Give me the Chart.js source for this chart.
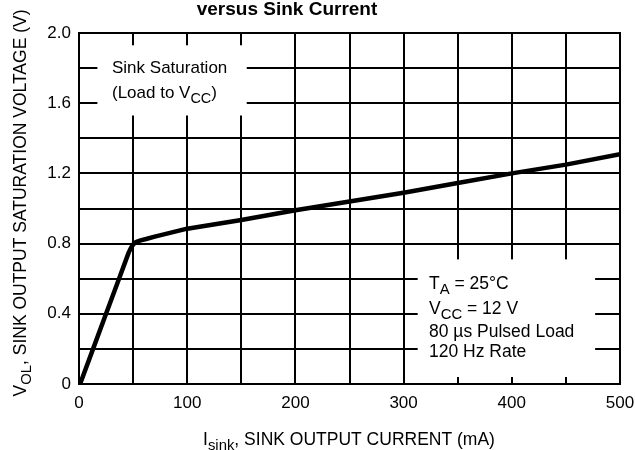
<!DOCTYPE html>
<html>
<head>
<meta charset="utf-8">
<script src="https://cdn.jsdelivr.net/npm/chart.js@4/dist/chart.umd.min.js"></script>
<style>
html,body{margin:0;padding:0;background:#fff;}
#wrap{position:relative;width:635px;height:450px;}
</style>
</head>
<body>
<div id="wrap"><canvas id="c" width="635" height="450"></canvas></div>
<script>
// Data
const sinkCurrent = [1, 13, 25, 37, 43, 46, 48, 50, 53, 57, 62, 70, 100, 150, 200, 250, 300, 350, 400, 450, 500];
const satVoltage  = [0, 0.2, 0.4, 0.6, 0.7, 0.75, 0.775, 0.795, 0.81, 0.818, 0.826, 0.84, 0.885, 0.935, 0.99, 1.04, 1.09, 1.145, 1.2, 1.25, 1.31];
const xLabelTicks = [0, 100, 200, 300, 400, 500];
const yLabelTicks = ['0', '0.4', '0.8', '1.2', '1.6', '2.0'];

const titleText = 'versus Sink Current';
const noteTopLines = [['Sink Saturation'], ['(Load to V', 'CC', ')']];
const noteBottomLines = [['T', 'A', ' = 25\u00B0C'], ['V', 'CC', ' = 12 V'], ['80 \u00B5s Pulsed Load'], ['120 Hz Rate']];
const xTitleParts = ['I', 'sink', ', SINK OUTPUT CURRENT (mA)'];
const yTitleParts = ['V', 'OL', ', SINK OUTPUT SATURATION VOLTAGE (V)'];

const FONT = '"Liberation Sans", Arial, sans-serif';

function drawSubText(ctx, x, y, parts, size) {
  let cx = x;
  parts.forEach((p, i) => {
    const sub = i % 2 === 1;
    ctx.font = (sub ? size * 0.85 : size) + 'px ' + FONT;
    ctx.fillText(p, cx, sub ? y + size * 0.3 : y);
    cx += ctx.measureText(p).width;
  });
  return cx - x;
}
function measureSub(ctx, parts, size) {
  let w = 0;
  parts.forEach((p, i) => {
    ctx.font = ((i % 2 === 1) ? size * 0.85 : size) + 'px ' + FONT;
    w += ctx.measureText(p).width;
  });
  return w;
}

const decor = {
  id: 'decor',
  afterDatasetsDraw(chart) {
    const ctx = chart.ctx;
    const xs = chart.scales.x, ys = chart.scales.y;
    ctx.save();
    ctx.fillStyle = '#000';
    ctx.textBaseline = 'alphabetic';
    ctx.textAlign = 'left';

    // annotation box (top-left)
    const b1 = {x0: xs.getPixelForValue(17), x1: xs.getPixelForValue(155), y0: ys.getPixelForValue(1.93), y1: ys.getPixelForValue(1.53)};
    ctx.fillStyle = '#fff';
    ctx.fillRect(b1.x0, b1.y0, b1.x1 - b1.x0, b1.y1 - b1.y0);
    ctx.fillStyle = '#000';
    drawSubText(ctx, xs.getPixelForValue(30.5), ys.getPixelForValue(1.77), noteTopLines[0], 17);
    drawSubText(ctx, xs.getPixelForValue(30.5), ys.getPixelForValue(1.63), noteTopLines[1], 17);

    // annotation box (bottom-right)
    const b2 = {x0: xs.getPixelForValue(313), x1: xs.getPixelForValue(477), y0: ys.getPixelForValue(0.71), y1: ys.getPixelForValue(0.04)};
    ctx.fillStyle = '#fff';
    ctx.fillRect(b2.x0, b2.y0, b2.x1 - b2.x0, b2.y1 - b2.y0);
    ctx.fillStyle = '#000';
    const lx = xs.getPixelForValue(323.5);
    drawSubText(ctx, lx, ys.getPixelForValue(0.54), noteBottomLines[0], 17.5);
    drawSubText(ctx, lx, ys.getPixelForValue(0.40), noteBottomLines[1], 17.5);
    drawSubText(ctx, lx, ys.getPixelForValue(0.27), noteBottomLines[2], 17.5);
    drawSubText(ctx, lx, ys.getPixelForValue(0.155), noteBottomLines[3], 17.5);

    // redraw border on top
    const a = chart.chartArea;
    ctx.strokeStyle = '#000';
    ctx.lineWidth = 2;
    ctx.strokeRect(a.left, a.top, a.right - a.left, a.bottom - a.top);

    // title
    ctx.font = 'bold 19px ' + FONT;
    ctx.textAlign = 'center';
    ctx.fillText(titleText, 287, 15);
    ctx.textAlign = 'left';

    // x axis title
    const xw = measureSub(ctx, xTitleParts, 17.5);
    drawSubText(ctx, 349 - xw / 2, 445, xTitleParts, 17.5);

    // y axis title
    ctx.save();
    ctx.translate(26, 0);
    ctx.rotate(-Math.PI / 2);
    const yw = measureSub(ctx, yTitleParts, 17.5);
    drawSubText(ctx, -(203 + yw / 2), 0, yTitleParts, 17.5);
    ctx.restore();

    ctx.restore();
  }
};

new Chart(document.getElementById('c'), {
  type: 'scatter',
  data: {
    datasets: [{
      data: sinkCurrent.map((x, i) => ({x: x, y: satVoltage[i]})),
      showLine: true,
      borderColor: '#000',
      borderWidth: 4.5,
      pointRadius: 0,
      tension: 0,
      borderJoinStyle: 'round',
      borderCapStyle: 'round',
      fill: false
    }]
  },
  options: {
    responsive: false,
    animation: false,
    layout: {padding: {top: 33, right: 0, left: 0, bottom: 0}},
    plugins: {legend: {display: false}, tooltip: {enabled: false}},
    scales: {
      x: {
        type: 'linear', min: 0, max: 500,
        ticks: {
          stepSize: 50, color: '#000', padding: 9, maxRotation: 0, autoSkip: false,
          font: {family: FONT, size: 17},
          callback: (v) => xLabelTicks.includes(v) ? String(v) : ''
        },
        grid: {color: '#000', lineWidth: 2, drawTicks: false},
        border: {color: '#000', width: 2},
        afterFit: (s) => { s.height = 66; s.paddingRight = 15; s.paddingLeft = 0; }
      },
      y: {
        type: 'linear', min: 0, max: 2.0,
        ticks: {
          stepSize: 0.2, color: '#000', padding: 8, autoSkip: false,
          font: {family: FONT, size: 17},
          callback: (v) => {
            const k = Math.round(v * 10);
            return k % 4 === 0 ? yLabelTicks[k / 4] : '';
          }
        },
        grid: {color: '#000', lineWidth: 2, drawTicks: false},
        border: {color: '#000', width: 2},
        afterFit: (s) => { s.width = 79; }
      }
    }
  },
  plugins: [decor]
});
</script>
</body>
</html>
